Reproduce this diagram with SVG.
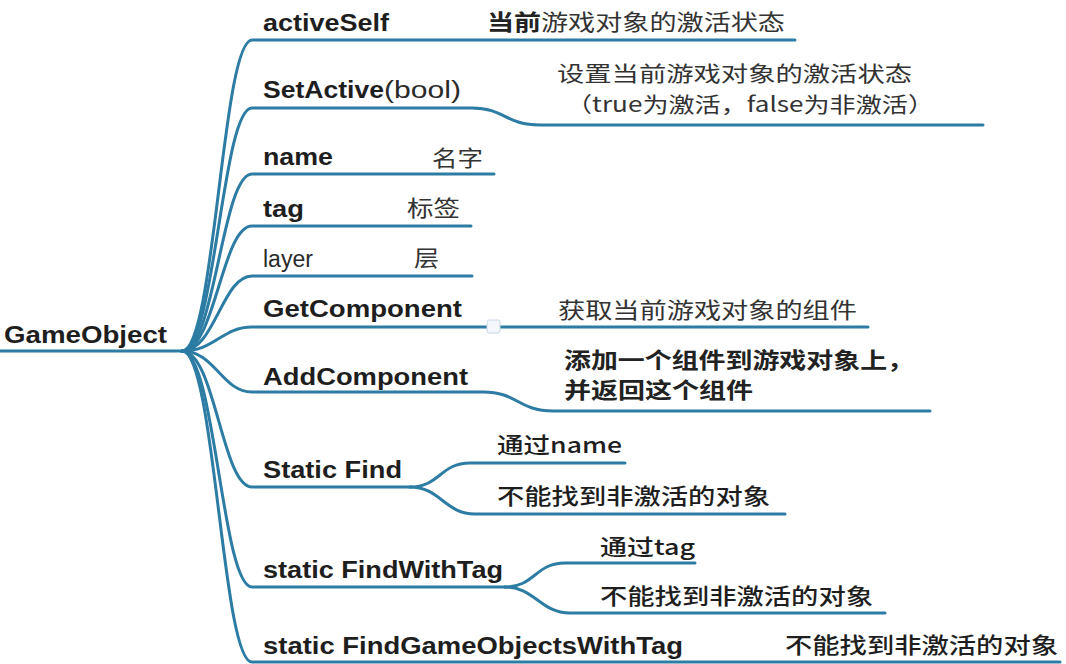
<svg xmlns="http://www.w3.org/2000/svg" width="1066" height="664" viewBox="0 0 1066 664">
<style>
.b{font-family:"Liberation Sans",Arial,sans-serif;font-weight:bold;font-size:23px;fill:#1e1e1e}
.r{font-family:"Liberation Sans",Arial,sans-serif;font-weight:normal;font-size:23px;fill:#2a2a2a}
.cr{font-family:"Noto Sans CJK SC",sans-serif;font-weight:normal;font-size:22px;fill:#333}
.cb{font-family:"Noto Sans CJK SC",sans-serif;font-weight:bold;font-size:22px;fill:#222}
.cm{font-family:"Noto Sans CJK SC",sans-serif;font-weight:500;font-size:22px;fill:#1e1e1e}
.ln{fill:none;stroke:#2c7ca4;stroke-width:3;stroke-linecap:round;stroke-linejoin:round}
</style>
<rect width="1066" height="664" fill="#ffffff"/>
<g id="connectors">
<path class="ln" d="M0,351 H182" stroke-width="3.5"/>
<path class="ln" d="M182,351 C215,351 222,40 252,40 H795"/>
<path class="ln" d="M182,351 C215,351 222,108 252,108 H472 C505,108 505,125 540,125 H983"/>
<path class="ln" d="M182,351 C215,351 222,174 252,174 H494"/>
<path class="ln" d="M182,351 C215,351 222,226 252,226 H471"/>
<path class="ln" d="M182,351 C215,351 222,276 252,276 H472"/>
<path class="ln" d="M182,351 C215,351 222,327 252,327 H868"/>
<path class="ln" d="M182,351 C215,351 222,392 252,392 H483 C518,392 518,411 553,411 H930"/>
<path class="ln" d="M182,351 C215,351 222,487 252,487 H410"/>
<path class="ln" d="M410,487 C440,487 440,463 470,463 H625"/>
<path class="ln" d="M410,487 C440,487 445,514 475,514 H785"/>
<path class="ln" d="M182,351 C215,351 222,587 252,587 H505"/>
<path class="ln" d="M505,587 C535,587 535,563 565,563 H695"/>
<path class="ln" d="M505,587 C535,587 540,613 570,613 H885"/>
<path class="ln" d="M182,351 C215,351 222,662 252,662 H1060"/>
</g>
<g id="root"><text class="b" x="4" y="343" textLength="163" lengthAdjust="spacingAndGlyphs">GameObject</text></g>
<g id="activeSelf">
<text class="b" x="263" y="31" textLength="126" lengthAdjust="spacingAndGlyphs">activeSelf</text>
<text class="cb" x="487" y="30" textLength="54" lengthAdjust="spacingAndGlyphs">当前</text>
<text class="cr" x="541" y="30" textLength="244" lengthAdjust="spacingAndGlyphs">游戏对象的激活状态</text>
</g>
<g id="setActive">
<text class="b" x="263" y="98" textLength="121" lengthAdjust="spacingAndGlyphs">SetActive</text>
<text class="r" x="384" y="98" textLength="77" lengthAdjust="spacingAndGlyphs">(bool)</text>
<text class="cr" x="557" y="81" textLength="355" lengthAdjust="spacingAndGlyphs" style="font-size:21px">设置当前游戏对象的激活状态</text>
<text class="cr" x="566" y="112" textLength="368" lengthAdjust="spacingAndGlyphs" style="font-size:21px">（true为激活，false为非激活）</text>
</g>
<g id="name">
<text class="b" x="263" y="165" textLength="70" lengthAdjust="spacingAndGlyphs">name</text>
<text class="cr" x="432" y="166" textLength="51" lengthAdjust="spacingAndGlyphs">名字</text>
</g>
<g id="tag">
<text class="b" x="263" y="217" textLength="41" lengthAdjust="spacingAndGlyphs">tag</text>
<text class="cr" x="407" y="216" textLength="53" lengthAdjust="spacingAndGlyphs">标签</text>
</g>
<g id="layer">
<text class="r" x="263" y="267" textLength="50" lengthAdjust="spacingAndGlyphs">layer</text>
<text class="cr" x="414" y="266" textLength="25" lengthAdjust="spacingAndGlyphs">层</text>
</g>
<g id="getComponent">
<text class="b" x="263" y="317" textLength="199" lengthAdjust="spacingAndGlyphs">GetComponent</text>
<text class="cr" x="558" y="318" textLength="299" lengthAdjust="spacingAndGlyphs">获取当前游戏对象的组件</text>
<rect x="487" y="320" width="13" height="13" rx="2" fill="#f4f7fb" stroke="#c8d6e6" stroke-width="1"/>
</g>
<g id="addComponent">
<text class="b" x="263" y="385" textLength="205" lengthAdjust="spacingAndGlyphs">AddComponent</text>
<text class="cb" x="564" y="368" textLength="350" lengthAdjust="spacingAndGlyphs">添加一个组件到游戏对象上，</text>
<text class="cb" x="564" y="398" textLength="189" lengthAdjust="spacingAndGlyphs">并返回这个组件</text>
</g>
<g id="staticFind">
<text class="b" x="263" y="478" textLength="139" lengthAdjust="spacingAndGlyphs">Static Find</text>
<text class="cm" x="497" y="453" textLength="125" lengthAdjust="spacingAndGlyphs">通过name</text>
<text class="cm" x="497" y="504" textLength="273" lengthAdjust="spacingAndGlyphs">不能找到非激活的对象</text>
</g>
<g id="findWithTag">
<text class="b" x="263" y="578" textLength="240" lengthAdjust="spacingAndGlyphs">static FindWithTag</text>
<text class="cm" x="600" y="555" textLength="95" lengthAdjust="spacingAndGlyphs">通过tag</text>
<text class="cm" x="600" y="604" textLength="273" lengthAdjust="spacingAndGlyphs">不能找到非激活的对象</text>
</g>
<g id="findGameObjectsWithTag">
<text class="b" x="263" y="654" textLength="420" lengthAdjust="spacingAndGlyphs">static FindGameObjectsWithTag</text>
<text class="cm" x="785" y="653" textLength="273" lengthAdjust="spacingAndGlyphs">不能找到非激活的对象</text>
</g>
</svg>
